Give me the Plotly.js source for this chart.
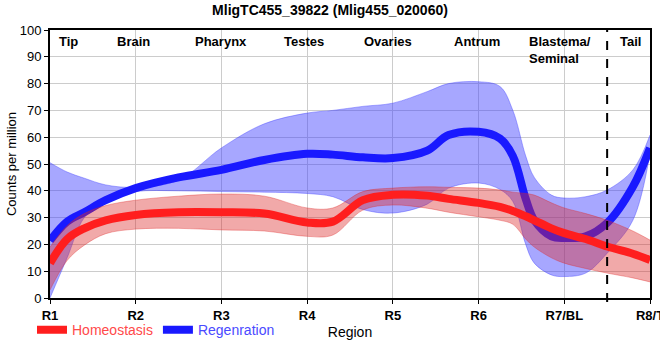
<!DOCTYPE html>
<html>
<head>
<meta charset="utf-8">
<script src="https://cdn.plot.ly/plotly-3.0.1.min.js"></script>
<style>html,body{margin:0;padding:0;background:#fff;}#chart{width:660px;height:360px;}</style>
</head>
<body>
<div id="chart"></div>
<script>
// Region tick labels (positions 0..7)
const regionLabels = ["R1", "R2", "R3", "R4", "R5", "R6", "R7/BL", "R8/T"];
const regionTicks = [0, 1, 2, 3, 4, 5, 6, 7];

// Tissue labels at top
const tissueNames = ["Tip", "Brain", "Pharynx", "Testes", "Ovaries", "Antrum", "Blastema/<br>Seminal", "Tail"];
const tissuePos = [0.22, 0.97, 2.0, 2.96, 3.94, 4.98, 5.95, 6.77];

// Sample positions along the body axis
const xPos = [0, 0.2, 0.4, 0.65, 1, 1.5, 2, 2.5, 3, 3.3, 3.65, 4, 4.4, 4.65, 5, 5.25, 5.4, 5.55, 5.65, 5.85, 6, 6.25, 6.5, 6.8, 7];

// Homeostasis
const homeoMean = [13, 22, 26, 29, 31, 32, 32, 31.5, 28.2, 28.5, 36.5, 38.5, 38.2, 37, 35.5, 34, 32.5, 30.5, 29, 26, 24.2, 22, 19.2, 16.5, 14.2];
const homeoHi   = [19, 27, 31.5, 34.5, 36.5, 38, 38.8, 38, 33.6, 33.6, 39.7, 41, 41.5, 41.3, 41, 40.3, 39.5, 39, 38.4, 35.5, 33.6, 31.5, 29, 25, 21.6];
const homeoLo   = [3, 14, 19.7, 24, 25.7, 26, 25.4, 25, 23, 23.5, 32.8, 34.7, 33.5, 32, 30.3, 29, 27.5, 22, 19, 15, 13, 11, 9.3, 7.5, 6];

// Regeneration
const regenMean = [21.4, 28.5, 32, 36.5, 41, 45, 47.8, 51.5, 53.8, 53.5, 52.5, 52.2, 55, 60.8, 62, 59.5, 53, 37, 29, 23, 22.4, 23, 28, 41.5, 56];
const regenHi   = [50.5, 47, 44.7, 42.2, 41.3, 44, 56, 65, 69, 70, 71.5, 72.7, 77, 80, 80.7, 78.9, 70, 53, 45, 38.4, 37.3, 37.8, 40.3, 47.8, 60.8];
const regenLo   = [0, 15, 30, 36.5, 39.7, 40, 39.7, 39.5, 39, 37.8, 33, 31.7, 35, 41, 42.9, 40.5, 36, 20, 13, 8.6, 8, 9.3, 16.7, 29, 54];

const narrow = "Liberation Sans Narrow, Arial Narrow, Liberation Sans, Arial, sans-serif";
const sans = "Liberation Sans, Arial, sans-serif";

const traces = [
  {x: xPos, y: regenHi, mode: "lines", line: {shape: "spline", width: 0.8, color: "rgba(60,60,255,0.5)"}, showlegend: false, hoverinfo: "skip"},
  {x: xPos, y: regenLo, mode: "lines", fill: "tonexty", fillcolor: "rgba(60,60,255,0.45)", line: {shape: "spline", width: 0.8, color: "rgba(60,60,255,0.5)"}, showlegend: false, hoverinfo: "skip"},
  {x: xPos, y: regenMean, mode: "lines", name: '<span style="color:#4a4aff">Regenration</span>', line: {shape: "spline", width: 8, color: "rgb(25,25,255)"}},
  {x: xPos, y: homeoHi, mode: "lines", line: {shape: "spline", width: 0.8, color: "rgba(225,40,40,0.45)"}, showlegend: false, hoverinfo: "skip"},
  {x: xPos, y: homeoLo, mode: "lines", fill: "tonexty", fillcolor: "rgba(220,40,40,0.4)", line: {shape: "spline", width: 0.8, color: "rgba(225,40,40,0.45)"}, showlegend: false, hoverinfo: "skip"},
  {x: xPos, y: homeoMean, mode: "lines", name: '<span style="color:#ff4a4a">Homeostasis</span>', line: {shape: "spline", width: 8, color: "rgb(255,30,30)"}}
];

const annotations = tissueNames.map((t, i) => ({
  x: tissuePos[i], y: 100, xref: "x", yref: "y", text: "<b>" + t + "</b>",
  showarrow: false, xanchor: "center", yanchor: "top", yshift: -2, align: "left",
  font: {family: sans, size: 13, color: "#000"}
}));

const layout = {
  width: 660, height: 360,
  margin: {l: 50, r: 10, t: 30, b: 62},
  paper_bgcolor: "#fff", plot_bgcolor: "#fff",
  title: {text: "<b>MligTC455_39822 (Mlig455_020060)</b>", x: 0.5, xanchor: "center", y: 0.985, yanchor: "top",
          font: {family: narrow, size: 14, color: "#000"}},
  xaxis: {
    range: [0, 7], tickvals: regionTicks, ticktext: regionLabels.map(s => "<b>" + s + "</b>"),
    tickfont: {family: narrow, size: 13, color: "#000"}, ticklabeloverflow: "allow",
    showgrid: true, gridcolor: "#cccccc", gridwidth: 1,
    showline: true, linecolor: "#000", linewidth: 2, mirror: true,
    ticks: "outside", ticklen: 4, tickcolor: "#000", zeroline: false,
    title: {text: "Region", font: {family: narrow, size: 14, color: "#000"}, standoff: 6}
  },
  yaxis: {
    range: [0, 100], dtick: 10,
    tickfont: {family: sans, size: 13, color: "#000"},
    showgrid: true, gridcolor: "#cccccc", gridwidth: 1,
    showline: true, linecolor: "#000", linewidth: 2, mirror: true,
    ticks: "outside", ticklen: 4, tickcolor: "#000", zeroline: false,
    title: {text: "Counts per million", font: {family: sans, size: 13, color: "#000"}, standoff: 0}
  },
  legend: {orientation: "h", x: -0.03, xanchor: "left", y: -0.12, yanchor: "middle", traceorder: "reversed",
           font: {family: narrow, size: 14}, itemwidth: 30, bgcolor: "rgba(0,0,0,0)", tracegroupgap: 0},
  shapes: [
    {type: "line", xref: "x", yref: "paper", x0: 6.5, x1: 6.5, y0: -0.015, y1: 1,
     line: {color: "#000", width: 2, dash: "dash"}}
  ],
  annotations: annotations
};

Plotly.newPlot("chart", traces, layout, {displayModeBar: false, staticPlot: true});
</script>
</body>
</html>
